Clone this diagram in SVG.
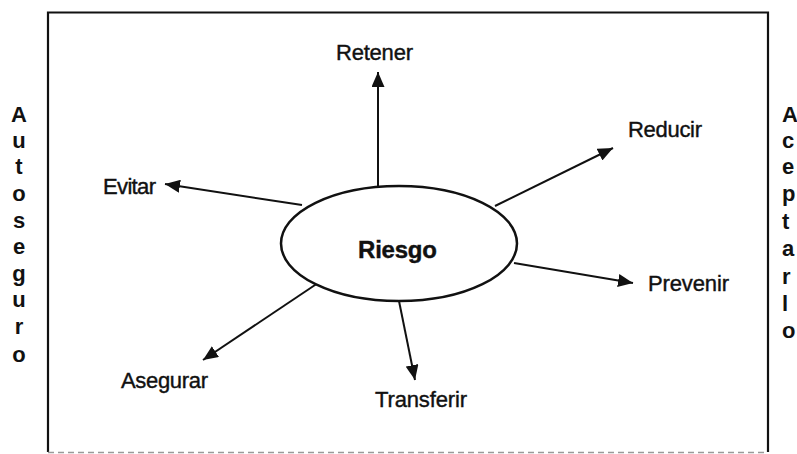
<svg xmlns="http://www.w3.org/2000/svg" width="797" height="454" viewBox="0 0 797 454">
<style>
.lbl{font-family:"Liberation Sans",Arial,sans-serif;font-size:22px;fill:#111;stroke:#111;stroke-width:0.4}
.side{font-family:"Liberation Sans",Arial,sans-serif;font-size:22px;font-weight:bold;fill:#111}
.conn{stroke:#111;stroke-width:2;fill:none;marker-end:url(#ah)}
</style>
<defs>
<marker id="ah" markerUnits="userSpaceOnUse" markerWidth="15" markerHeight="13" refX="15" refY="6.5" orient="auto">
<path d="M0,0 L15,6.5 L0,13 z" fill="#111"/>
</marker>
</defs>
<rect width="797" height="454" fill="#fff"/>
<g id="frame">
<path d="M48,452 V12.5 H768 V452" fill="none" stroke="#111" stroke-width="2.2"/>
<line x1="48" y1="452.5" x2="768" y2="452.5" stroke="#999" stroke-width="1.5" stroke-dasharray="6 4"/>
</g>
<g id="autoseguro">
<text class="side" text-anchor="middle" x="19"><tspan x="19" y="122">A</tspan><tspan x="19" y="148">u</tspan><tspan x="19" y="174">t</tspan><tspan x="19" y="201">o</tspan><tspan x="19" y="228">s</tspan><tspan x="19" y="254">e</tspan><tspan x="19" y="281">g</tspan><tspan x="19" y="307">u</tspan><tspan x="19" y="334">r</tspan><tspan x="19" y="362">o</tspan></text>
</g>
<g id="aceptarlo">
<text class="side" x="782"><tspan x="782" y="122">A</tspan><tspan x="782" y="148">c</tspan><tspan x="782" y="174">e</tspan><tspan x="782" y="201">p</tspan><tspan x="782" y="229">t</tspan><tspan x="782" y="256">a</tspan><tspan x="782" y="284">r</tspan><tspan x="782" y="311">l</tspan><tspan x="782" y="338">o</tspan></text>
</g>
<g id="connectors">
<line class="conn" x1="378" y1="186" x2="378" y2="72"/>
<line class="conn" x1="302" y1="205" x2="165" y2="184"/>
<line class="conn" x1="495" y1="206" x2="613" y2="148"/>
<line class="conn" x1="514" y1="263" x2="633" y2="283"/>
<line class="conn" x1="399" y1="301" x2="415" y2="380"/>
<line class="conn" x1="318" y1="283" x2="203" y2="360"/>
</g>
<g id="riesgo">
<ellipse cx="399" cy="243.5" rx="118" ry="57.5" fill="#fff" stroke="#111" stroke-width="2.5"/>
<text x="358" y="258" textLength="79" font-family="Liberation Sans,Arial,sans-serif" font-size="24" font-weight="bold" fill="#111" stroke="#111" stroke-width="0.4">Riesgo</text>
</g>
<g id="retener"><text class="lbl" x="336" y="60" textLength="77">Retener</text></g>
<g id="evitar"><text class="lbl" x="103" y="194" textLength="53">Evitar</text></g>
<g id="reducir"><text class="lbl" x="628" y="137" textLength="74">Reducir</text></g>
<g id="prevenir"><text class="lbl" x="648" y="291" textLength="81">Prevenir</text></g>
<g id="transferir"><text class="lbl" x="375" y="407" textLength="92">Transferir</text></g>
<g id="asegurar"><text class="lbl" x="121" y="388" textLength="87">Asegurar</text></g>
</svg>
